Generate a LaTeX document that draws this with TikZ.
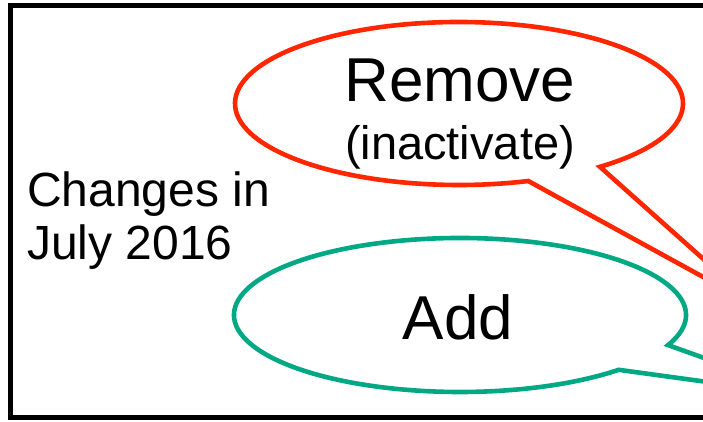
\documentclass[tikz,border=0pt]{standalone}
\usepackage{fontspec}
\setmainfont{Liberation Sans}
\usetikzlibrary{calc}
\definecolor{calloutred}{RGB}{255,38,0}
\definecolor{calloutgreen}{RGB}{0,168,132}
\tikzset{
  frame/.style={draw=black, line width=5pt},
  redcallout/.style={draw=calloutred, line width=4.6pt, line join=miter},
  greencallout/.style={draw=calloutgreen, line width=4.6pt, line join=miter},
  txt/.style={inner sep=0pt, text=black},
}
\begin{document}
\begin{tikzpicture}[x=1pt,y=1pt]
\useasboundingbox (0,0) rectangle (703,422);
\clip (0,0) rectangle (703,422);
% frame
\draw[frame] (10.5,416) rectangle (720,4);
% green callout
\coordinate (gc) at (460,107);
\coordinate (gtip) at (810,26);
\coordinate (gs) at ($(gc)+(-23:226pt and 77pt)$);
\draw[greencallout] (gs) arc[start angle=-23, end angle=314.6, x radius=226pt, y radius=77pt] -- (gtip) -- cycle;
% red callout
\coordinate (rc) at (459,318.5);
\coordinate (rtip) at (756,116);
\coordinate (rs) at ($(rc)+(-51:224pt and 81.5pt)$);
\draw[redcallout] (rs) arc[start angle=-51, end angle=288, x radius=224pt, y radius=81.5pt] -- (rtip) -- cycle;
% texts
\node[txt, anchor=base] (remove) at (460,320) {\fontsize{62}{62}\selectfont Remove};
\node[txt, anchor=base] (inact) at (460,262) {\fontsize{47}{47}\selectfont (inactivate)};
\node[txt, anchor=base] (add) at (458,82) {\fontsize{62}{62}\selectfont Add};
\node[txt, anchor=base west] (changes) at (27,215) {\fontsize{48}{48}\selectfont Changes in};
\node[txt, anchor=base west] (july) at (27,162) {\fontsize{48}{48}\selectfont July 2016};
\end{tikzpicture}
\end{document}
